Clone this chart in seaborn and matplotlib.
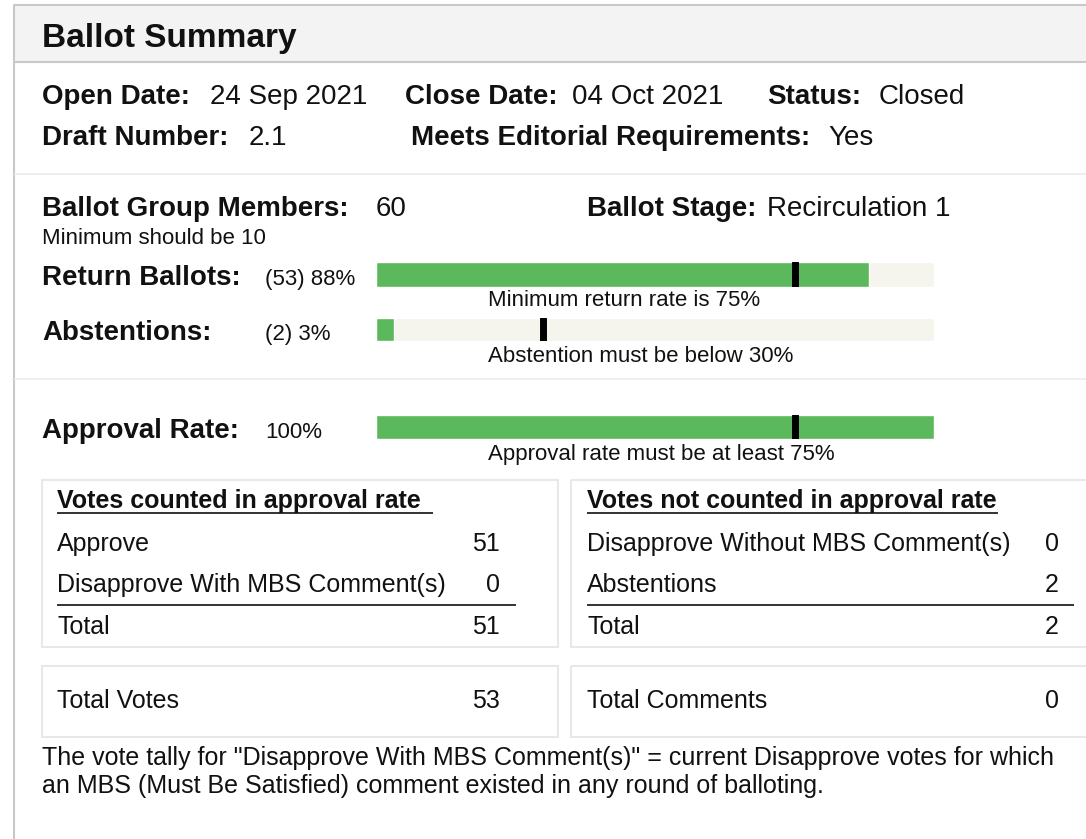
import matplotlib
matplotlib.use("Agg")
import matplotlib.pyplot as plt
import seaborn as sns
import pandas as pd
from matplotlib.patches import Rectangle

sns.set_theme(style="white")
plt.rcParams['font.family'] = ['Liberation Sans', 'DejaVu Sans']

# ---------------- data ----------------
title = "Ballot Summary"
info_row1 = [("Open Date:", "24 Sep 2021"), ("Close Date:", "04 Oct 2021"), ("Status:", "Closed")]
info_row2 = [("Draft Number:", "2.1"), ("Meets Editorial Requirements:", "Yes")]
group_members = 60
ballot_stage = "Recirculation 1"
min_members_note = "Minimum should be 10"

bar_labels = ["Return Ballots:", "Abstentions:", "Approval Rate:"]
bar_value_text = ["(53) 88%", "(2) 3%", "100%"]
bar_values = [88.3, 3.3, 100.0]
bar_thresholds = [75, 30, 75]
bar_captions = ["Minimum return rate is 75%", "Abstention must be below 30%",
                "Approval rate must be at least 75%"]

counted_title = "Votes counted in approval rate"
counted_labels = ["Approve", "Disapprove With MBS Comment(s)"]
counted_values = [51, 0]
not_counted_title = "Votes not counted in approval rate"
not_counted_labels = ["Disapprove Without MBS Comment(s)", "Abstentions"]
not_counted_values = [0, 2]
total_votes = 53
total_comments = 0
footer = ['The vote tally for "Disapprove With MBS Comment(s)" = current Disapprove votes for which',
          'an MBS (Must Be Satisfied) comment existed in any round of balloting.']

# ---------------- styling ----------------
GREEN = "#5cb85c"
TRACK = "#f5f5ee"
W, H = 1086, 839
fig = plt.figure(figsize=(W / 100, H / 100), dpi=100)
fig.patch.set_facecolor("white")
ax = fig.add_axes([0, 0, 1, 1])
ax.set_xlim(0, W)
ax.set_ylim(H, 0)
ax.axis("off")

BIG, MID, TBL, SMALL = 24, 20, 18, 16

def txt(x, y, s, size, bold=False, ha="left"):
    ax.text(x, y, s, fontsize=size, fontweight="bold" if bold else "normal",
            ha=ha, va="baseline", color="#111111")

def hline(x0, x1, y, color, lw=1.0):
    ax.plot([x0, x1], [y, y], color=color, lw=lw, solid_capstyle="butt")

# frame & header
ax.add_patch(Rectangle((14, 5), W, 57, facecolor="#f3f3f3", edgecolor="none"))
ax.plot([14, 14], [5, H], color="#c8c8c8", lw=1.5)
hline(14, W, 5, "#c8c8c8", 1.5)
hline(14, W, 62, "#c8c8c8", 1.5)
hline(14, W, 174, "#ebebeb", 1.2)
hline(14, W, 379, "#ebebeb", 1.2)

txt(42, 47, title, BIG, bold=True)

# info rows
row1_x = [(42, 210), (405, 572), (767, 879)]
for (lab, val), (xl, xv) in zip(info_row1, row1_x):
    txt(xl, 104, lab, MID, bold=True)
    txt(xv, 104, val, MID)
row2_x = [(42, 249), (411, 828)]
for (lab, val), (xl, xv) in zip(info_row2, row2_x):
    txt(xl, 145, lab, MID, bold=True)
    txt(xv, 145, val, MID)

txt(42, 216, "Ballot Group Members:", MID, bold=True)
txt(376, 216, str(group_members), MID)
txt(587, 216, "Ballot Stage:", MID, bold=True)
txt(767, 216, ballot_stage, MID)
txt(42, 244, min_members_note, SMALL)

# bars
bar_boxes = [(262, 287), (318, 341), (415, 439)]
label_base = [285, 340, 438]
caption_base = [306, 362, 460]
BX0, BX1 = 376, 934
for i in range(3):
    y0, y1 = bar_boxes[i]
    bax = fig.add_axes([BX0 / W, 1 - y1 / H, (BX1 - BX0) / W, (y1 - y0) / H])
    df = pd.DataFrame({"metric": [bar_labels[i]], "track": [100.0], "value": [bar_values[i]]})
    sns.barplot(data=df, x="track", y="metric", color=TRACK, saturation=1, width=1.0,
                ax=bax, orient="h")
    sns.barplot(data=df, x="value", y="metric", color=GREEN, saturation=1, width=1.0,
                ax=bax, orient="h")
    bax.axvline(bar_thresholds[i], color="black", lw=5)
    bax.set_xlim(0, 100)
    bax.set_ylim(0.5, -0.5)
    bax.axis("off")
    txt(42, label_base[i], bar_labels[i], MID, bold=True)
    txt(265, label_base[i], bar_value_text[i], SMALL)
    txt(488, caption_base[i], bar_captions[i], SMALL)

# tables
BORDER = "#e8e8e8"
for (x0, x1) in [(42, 558), (571, W + 20)]:
    ax.add_patch(Rectangle((x0, 480), x1 - x0, 167, facecolor="none", edgecolor=BORDER, lw=1.5))
    ax.add_patch(Rectangle((x0, 666), x1 - x0, 71, facecolor="none", edgecolor=BORDER, lw=1.5))

def table(x0, xnum, xline, ttl, ul_end, labels, values):
    txt(x0, 508, ttl, TBL, bold=True)
    hline(x0, ul_end, 513, "#111111", 1.2)
    for lab, v, yb in zip(labels, values, [551, 592]):
        txt(x0, yb, lab, TBL)
        txt(xnum, yb, str(v), TBL, ha="right")
    hline(x0, xline, 605, "#111111", 1.2)
    txt(x0, 634, "Total", TBL)
    txt(xnum, 634, str(sum(values)), TBL, ha="right")

table(57, 500, 516, counted_title, 433, counted_labels, counted_values)
table(587, 1059, 1074, not_counted_title, 998, not_counted_labels, not_counted_values)

txt(57, 708, "Total Votes", TBL)
txt(500, 708, str(total_votes), TBL, ha="right")
txt(587, 708, "Total Comments", TBL)
txt(1059, 708, str(total_comments), TBL, ha="right")

txt(42, 765, footer[0], TBL)
txt(42, 793, footer[1], TBL)

fig.savefig("out.png", dpi=100, facecolor="white")
